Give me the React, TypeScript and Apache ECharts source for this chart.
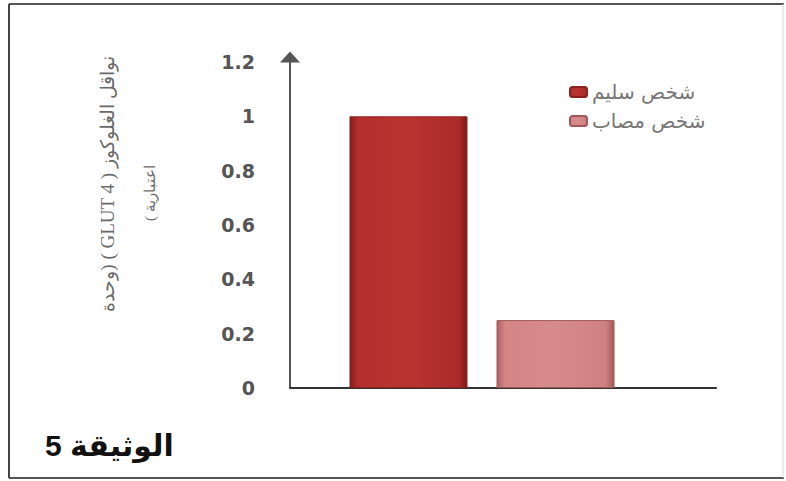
import React, { useEffect, useRef } from "react";
import * as echarts from "echarts";

const categories = ["GLUT 4"];
const seriesNames = ["شخص سليم", "شخص مصاب"];
const healthyValues = [1];
const sickValues = [0.25];
const yTitleLine1 = "نواقل الغلوكوز ( GLUT 4 ) (وحدة";
const yTitleLine2 = "اعتبارية )";
const docLabel = "الوثيقة 5";

const RLE = "\u202B";
const PDF = "\u202C";

export default function App() {
  const ref = useRef<HTMLDivElement>(null);

  useEffect(() => {
    if (!ref.current) return;
    const chart = echarts.init(ref.current, null, { renderer: "svg" });

    const darkGrad = new echarts.graphic.LinearGradient(0, 0, 1, 0, [
      { offset: 0, color: "#861a1a" },
      { offset: 0.07, color: "#b3302e" },
      { offset: 0.5, color: "#b83431" },
      { offset: 0.93, color: "#ab2b2a" },
      { offset: 1, color: "#7a1616" },
    ]);
    const pinkGrad = new echarts.graphic.LinearGradient(0, 0, 1, 0, [
      { offset: 0, color: "#b06262" },
      { offset: 0.07, color: "#d48686" },
      { offset: 0.5, color: "#d68b8b" },
      { offset: 0.93, color: "#cf8181" },
      { offset: 1, color: "#a45858" },
    ]);

    const yCommon = {
      type: "value" as const,
      min: 0,
      max: 1.2,
      interval: 0.2,
    };

    chart.setOption({
      animation: false,
      backgroundColor: "#ffffff",
      grid: [
        { left: 290, right: 70, top: 62, bottom: 93 },
        { left: 290, right: 112, top: 62, bottom: 93 },
      ],
      legend: {
        orient: "vertical",
        left: 564,
        top: 77,
        itemWidth: 17,
        itemHeight: 10,
        itemGap: 9,
        data: seriesNames,
        textStyle: {
          color: "#777777",
          fontSize: 20,
          fontFamily: "'DejaVu Sans', sans-serif",
        },
      },
      xAxis: [
        {
          type: "category",
          gridIndex: 0,
          data: categories,
          axisLine: { show: true, lineStyle: { color: "#333333", width: 2 } },
          axisTick: { show: false },
          axisLabel: { show: false },
        },
        {
          type: "category",
          gridIndex: 1,
          data: categories,
          show: false,
        },
      ],
      yAxis: [
        {
          ...yCommon,
          gridIndex: 0,
          axisLine: {
            show: true,
            lineStyle: { color: "#555555", width: 2 },
            symbol: ["none", "triangle"],
            symbolSize: [20, 11],
            symbolOffset: [0, 5],
          },
          axisTick: { show: false },
          splitLine: { show: false },
          axisLabel: {
            margin: 35,
            color: "#555555",
            fontSize: 19,
            fontWeight: "bold",
            fontFamily: "'DejaVu Sans', Verdana, sans-serif",
          },
        },
        { ...yCommon, gridIndex: 1, show: false },
      ],
      series: [
        {
          name: seriesNames[0],
          type: "bar",
          xAxisIndex: 1,
          yAxisIndex: 1,
          data: healthyValues,
          barWidth: 118,
          barGap: "24.6%",
          itemStyle: { color: darkGrad, borderColor: "#8a2020", borderWidth: 1 },
        },
        {
          name: seriesNames[1],
          type: "bar",
          xAxisIndex: 1,
          yAxisIndex: 1,
          data: sickValues,
          barWidth: 118,
          barGap: "24.6%",
          itemStyle: { color: pinkGrad, borderColor: "#9e5a5a", borderWidth: 1 },
        },
      ],
      graphic: [
        { type: "line", shape: { x1: 9, y1: 4, x2: 784, y2: 4 }, style: { stroke: "#555555", lineWidth: 2 } },
        { type: "line", shape: { x1: 9, y1: 4, x2: 9, y2: 478 }, style: { stroke: "#444444", lineWidth: 2 } },
        { type: "line", shape: { x1: 9, y1: 478, x2: 784, y2: 478 }, style: { stroke: "#555555", lineWidth: 2 } },
        { type: "line", shape: { x1: 783, y1: 4, x2: 783, y2: 478 }, style: { stroke: "#d8d8d8", lineWidth: 1 } },
        {
          type: "text",
          x: 107,
          y: 184,
          rotation: Math.PI / 2,
          style: {
            text: RLE + yTitleLine1 + PDF,
            fill: "#6a6a6a",
            fontSize: 19,
            fontFamily: "'Liberation Serif', 'DejaVu Serif', serif",
            textAlign: "center",
            textVerticalAlign: "middle",
          },
        },
        {
          type: "text",
          x: 150,
          y: 193,
          rotation: Math.PI / 2,
          style: {
            text: RLE + yTitleLine2 + PDF,
            fill: "#6a6a6a",
            fontSize: 15,
            fontFamily: "'Liberation Serif', 'DejaVu Serif', serif",
            textAlign: "center",
            textVerticalAlign: "middle",
          },
        },
        {
          type: "text",
          x: 45,
          y: 445,
          style: {
            text: RLE + docLabel + PDF,
            fill: "#111111",
            fontSize: 30,
            fontWeight: "bold",
            fontFamily: "'Liberation Sans', 'DejaVu Sans', sans-serif",
            textAlign: "left",
            textVerticalAlign: "middle",
          },
        },
      ],
    });

    return () => chart.dispose();
  }, []);

  return (
    <div
      ref={ref}
      style={{ position: "fixed", left: 0, top: 0, width: 786, height: 481 }}
    />
  );
}
